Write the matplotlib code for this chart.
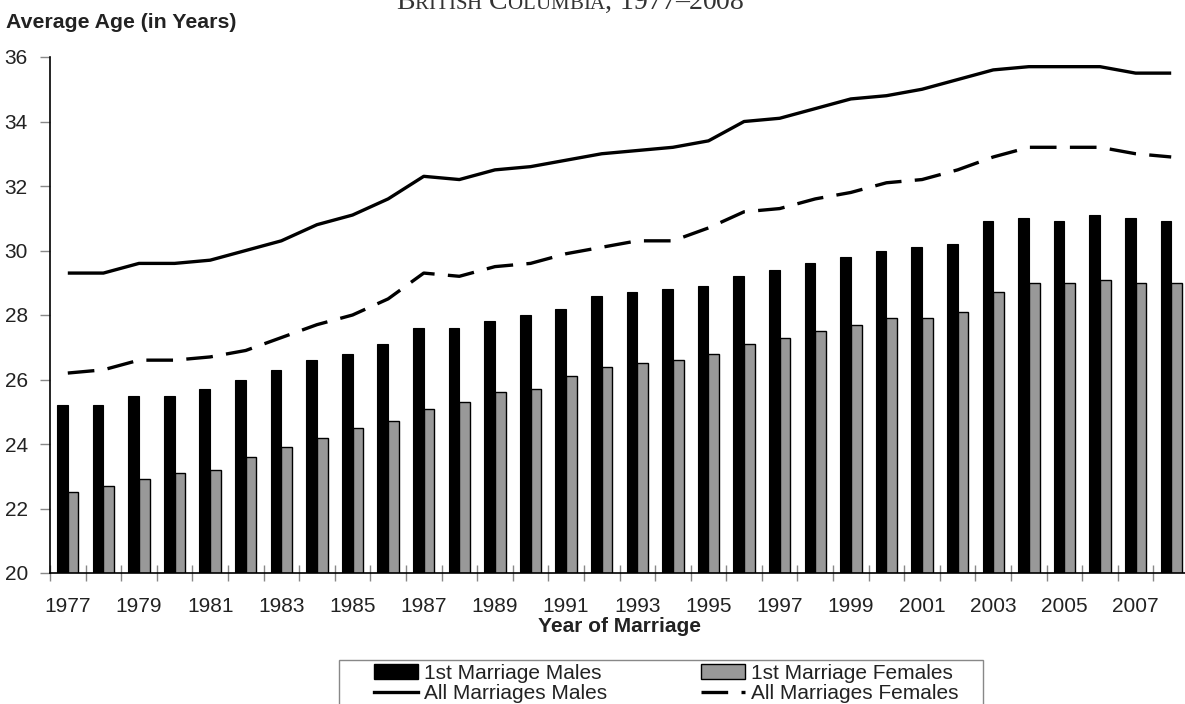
import matplotlib
matplotlib.use("Agg")
import matplotlib.pyplot as plt
import numpy as np
from matplotlib.patches import Rectangle, Patch
from matplotlib.lines import Line2D

plt.rcParams["font.family"] = ["Liberation Sans", "DejaVu Sans"]

# ── data ──
years = list(range(1977, 2009))
first_males = [25.2, 25.2, 25.5, 25.5, 25.7, 26.0, 26.3, 26.6, 26.8, 27.1,
               27.6, 27.6, 27.8, 28.0, 28.2, 28.6, 28.7, 28.8, 28.9, 29.2,
               29.4, 29.6, 29.8, 30.0, 30.1, 30.2, 30.9, 31.0, 30.9, 31.1,
               31.0, 30.9]
first_females = [22.5, 22.7, 22.9, 23.1, 23.2, 23.6, 23.9, 24.2, 24.5, 24.7,
                 25.1, 25.3, 25.6, 25.7, 26.1, 26.4, 26.5, 26.6, 26.8, 27.1,
                 27.3, 27.5, 27.7, 27.9, 27.9, 28.1, 28.7, 29.0, 29.0, 29.1,
                 29.0, 29.0]
all_males = [29.3, 29.3, 29.6, 29.6, 29.7, 30.0, 30.3, 30.8, 31.1, 31.6,
             32.3, 32.2, 32.5, 32.6, 32.8, 33.0, 33.1, 33.2, 33.4, 34.0,
             34.1, 34.4, 34.7, 34.8, 35.0, 35.3, 35.6, 35.7, 35.7, 35.7,
             35.5, 35.5]
all_females = [26.2, 26.3, 26.6, 26.6, 26.7, 26.9, 27.3, 27.7, 28.0, 28.5,
               29.3, 29.2, 29.5, 29.6, 29.9, 30.1, 30.3, 30.3, 30.7, 31.2,
               31.3, 31.6, 31.8, 32.1, 32.2, 32.5, 32.9, 33.2, 33.2, 33.2,
               33.0, 32.9]
series_names = ["1st Marriage Males", "1st Marriage Females",
                "All Marriages Males", "All Marriages Females"]
y_ticks = [20, 22, 24, 26, 28, 30, 32, 34, 36]

GRAY = "#999999"
TXT = "#222222"
W, H = 1185, 704

fig = plt.figure(figsize=(W / 100, H / 100), dpi=100)
ax = fig.add_axes([50 / W, 1 - 573 / H, 1139 / W, 516 / H])

x = np.arange(len(years))
bw = 0.3
ax.bar(x - bw / 2, first_males, bw, color="black", edgecolor="black", lw=0.8, zorder=2)
ax.bar(x + bw / 2, first_females, bw, color=GRAY, edgecolor="black", lw=1.0, zorder=2)
ax.plot(x, all_males, color="black", lw=2.4, solid_capstyle="butt", zorder=3)
ax.plot(x, all_females, color="black", lw=2.4, dashes=(8, 4), zorder=3)

ax.set_xlim(-0.5, len(years) - 0.5)
ax.set_ylim(20, 36)
ax.set_yticks(y_ticks)
ax.set_yticklabels([str(v) for v in y_ticks], fontsize=15, color=TXT)
ax.set_xticks(x[::2])
ax.set_xticklabels([str(y) for y in years[::2]], fontsize=15, color=TXT)
ax.set_xticks(np.arange(len(years) + 1) - 0.5, minor=True)
ax.tick_params(axis="x", which="major", length=0, pad=17)
ax.tick_params(axis="x", which="minor", direction="inout", length=12, color="#888888", width=1)
ax.tick_params(axis="y", direction="out", length=7, color="#888888", width=1, pad=9)

for s in ["top", "right"]:
    ax.spines[s].set_visible(False)
ax.spines["left"].set_linewidth(1.2)
ax.spines["bottom"].set_linewidth(1.2)

ax.set_xlabel("Year of Marriage", fontsize=15, fontweight="bold", labelpad=1, color=TXT)
fig.text(6 / W, 1 - 22 / H, "Average Age (in Years)", fontsize=15.3, fontweight="bold",
         va="center", ha="left", color=TXT)

# small-caps title, mostly cut off at the top edge
title = "British Columbia, 1977–2008"
renderer = fig.canvas.get_renderer()
pieces = [(ch.upper(), 15) if ch.islower() else (ch, 20) for ch in title]
tmp = [fig.text(0, 0, ch, fontsize=sz, family="Liberation Serif") for ch, sz in pieces]
widths = [t.get_window_extent(renderer).width for t in tmp]
for t in tmp:
    t.remove()
x0 = 570 - sum(widths) / 2
for (ch, sz), w in zip(pieces, widths):
    fig.text(x0 / W, 1 - 9 / H, ch, fontsize=sz, family="Liberation Serif",
             color="#333333", va="baseline", ha="left")
    x0 += w

# legend
handles = [Patch(facecolor="black", edgecolor="black"),
           Line2D([], [], color="black", lw=2.4),
           Patch(facecolor=GRAY, edgecolor="black"),
           Line2D([], [], color="black", lw=2.4, dashes=(8, 4))]
labels = [series_names[0], series_names[2], series_names[1], series_names[3]]
fig.legend(handles, labels, ncol=2, frameon=False, fontsize=15, labelcolor=TXT,
           loc="upper left", bbox_to_anchor=(374 / W, 1 - 664 / H),
           handlelength=2.1, handletextpad=0.3, columnspacing=4.5,
           labelspacing=0.05, borderpad=0, borderaxespad=0)
fig.patches.append(Rectangle((339 / W, 1 - 712 / H), 644 / W, 52 / H,
                             transform=fig.transFigure, fill=False,
                             edgecolor="#888888", lw=1))

plt.savefig("out.png", dpi=100)
